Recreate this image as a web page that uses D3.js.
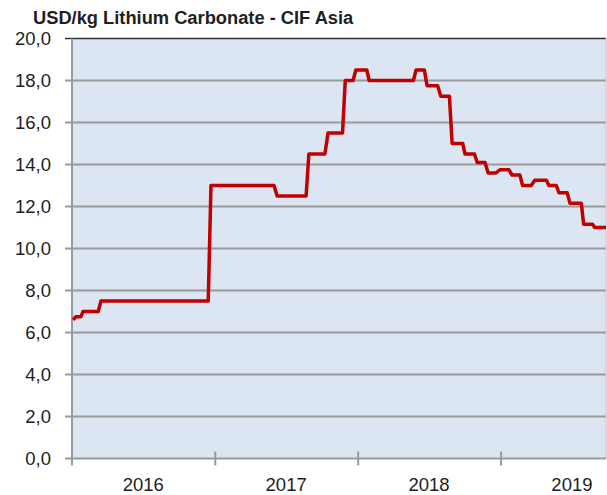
<!DOCTYPE html>
<html>
<head>
<meta charset="utf-8">
<script src="https://cdn.jsdelivr.net/npm/d3@7"></script>
<style>
  body { margin: 0; background: #fff; }
  text { font-family: "Liberation Sans", Arial, sans-serif; fill: #1e1e1e; }
</style>
</head>
<body>
<svg id="chart" width="607" height="495"></svg>
<script>
// price vertices (date of each step, USD/kg)
const dates = ['2016-01-04','2016-01-11','2016-01-24','2016-01-29','2016-03-08','2016-03-15',
  '2016-12-14','2016-12-21','2017-05-31','2017-06-08','2017-08-21','2017-08-28',
  '2017-10-08','2017-10-16','2017-11-22','2017-11-29','2017-12-19','2017-12-26',
  '2018-01-23','2018-01-29','2018-05-22','2018-05-29','2018-06-19','2018-06-26',
  '2018-07-23','2018-07-31','2018-08-22','2018-08-29','2018-09-25','2018-10-01',
  '2018-10-25','2018-11-01','2018-11-21','2018-11-29','2018-12-19','2018-12-29',
  '2019-01-21','2019-01-29','2019-02-18','2019-02-25','2019-03-19','2019-03-28',
  '2019-04-27','2019-05-03','2019-05-22','2019-05-29','2019-06-19','2019-06-26',
  '2019-07-25','2019-07-31','2019-08-23','2019-08-28','2019-09-26'];
const prices = [6.6, 6.75, 6.75, 7.0, 7.0, 7.5,
  7.5, 13.0, 13.0, 12.5, 12.5, 14.5,
  14.5, 15.5, 15.5, 18.0, 18.0, 18.5,
  18.5, 18.0, 18.0, 18.5, 18.5, 17.75,
  17.75, 17.25, 17.25, 15.0, 15.0, 14.5,
  14.5, 14.1, 14.1, 13.6, 13.6, 13.75,
  13.75, 13.5, 13.5, 13.0, 13.0, 13.25,
  13.25, 13.0, 13.0, 12.65, 12.65, 12.15,
  12.15, 11.15, 11.15, 11.0, 11.0];
const years = [2016, 2017, 2018, 2019];
const yTicks = [0, 2, 4, 6, 8, 10, 12, 14, 16, 18, 20];

const parse = d3.timeParse('%Y-%m-%d');
const data = dates.map((d, i) => ({ date: parse(d), value: prices[i] }));

const svg = d3.select('#chart');
const pLeft = 72, pRight = 606, pTop = 38.5, pBottom = 458.5;

const x = d3.scaleTime()
  .domain([new Date(2016, 0, 1), parse('2019-09-26')])
  .range([pLeft, pRight]);
const y = d3.scaleLinear().domain([0, 20]).range([pBottom, pTop]);

// plot background
svg.append('rect')
  .attr('x', pLeft).attr('y', pTop)
  .attr('width', pRight - pLeft).attr('height', pBottom - pTop)
  .attr('fill', '#dce6f2');

// gridlines + y tick marks
svg.append('g').selectAll('line')
  .data(yTicks.slice(1, -1))
  .join('line')
  .attr('x1', pLeft - 7).attr('x2', pRight)
  .attr('y1', d => y(d)).attr('y2', d => y(d))
  .attr('stroke', '#9a9a9a').attr('stroke-width', 2);

// top border
svg.append('line')
  .attr('x1', pLeft - 7).attr('x2', pRight)
  .attr('y1', y(20)).attr('y2', y(20))
  .attr('stroke', '#333').attr('stroke-width', 1.5);
// right border
svg.append('line')
  .attr('x1', pRight).attr('x2', pRight)
  .attr('y1', pTop).attr('y2', pBottom)
  .attr('stroke', '#b8c2cc').attr('stroke-width', 1);

// y labels
svg.append('g').selectAll('text')
  .data(yTicks)
  .join('text')
  .attr('x', 51).attr('y', d => y(d) + 6.5)
  .attr('text-anchor', 'end')
  .attr('font-size', 18.5)
  .text(d => d3.format('.1f')(d).replace('.', ','));

// axes lines
svg.append('line')
  .attr('x1', pLeft).attr('x2', pLeft)
  .attr('y1', pTop).attr('y2', pBottom + 7)
  .attr('stroke', '#9a9a9a').attr('stroke-width', 2);
svg.append('line')
  .attr('x1', pLeft - 7).attr('x2', pRight)
  .attr('y1', pBottom).attr('y2', pBottom)
  .attr('stroke', '#9a9a9a').attr('stroke-width', 2);

// x ticks at year boundaries
svg.append('g').selectAll('line')
  .data(years.slice(1))
  .join('line')
  .attr('x1', d => x(new Date(d, 0, 1))).attr('x2', d => x(new Date(d, 0, 1)))
  .attr('y1', pBottom - 7).attr('y2', pBottom + 7)
  .attr('stroke', '#9a9a9a').attr('stroke-width', 2);

// year labels centered on each year
svg.append('g').selectAll('text')
  .data(years)
  .join('text')
  .attr('x', d => x(new Date(d, 6, 1)))
  .attr('y', 491)
  .attr('text-anchor', 'middle')
  .attr('font-size', 18.5)
  .text(d => d);

// price line
const line = d3.line().x(d => x(d.date)).y(d => y(d.value));
svg.append('path')
  .datum(data)
  .attr('d', line)
  .attr('fill', 'none')
  .attr('stroke', '#c00000')
  .attr('stroke-width', 3.5)
  .attr('stroke-linejoin', 'round');

// title
svg.append('text')
  .attr('x', 33).attr('y', 24)
  .attr('font-size', 18.3)
  .attr('font-weight', 'bold')
  .text('USD/kg Lithium Carbonate - CIF Asia');
</script>
</body>
</html>
